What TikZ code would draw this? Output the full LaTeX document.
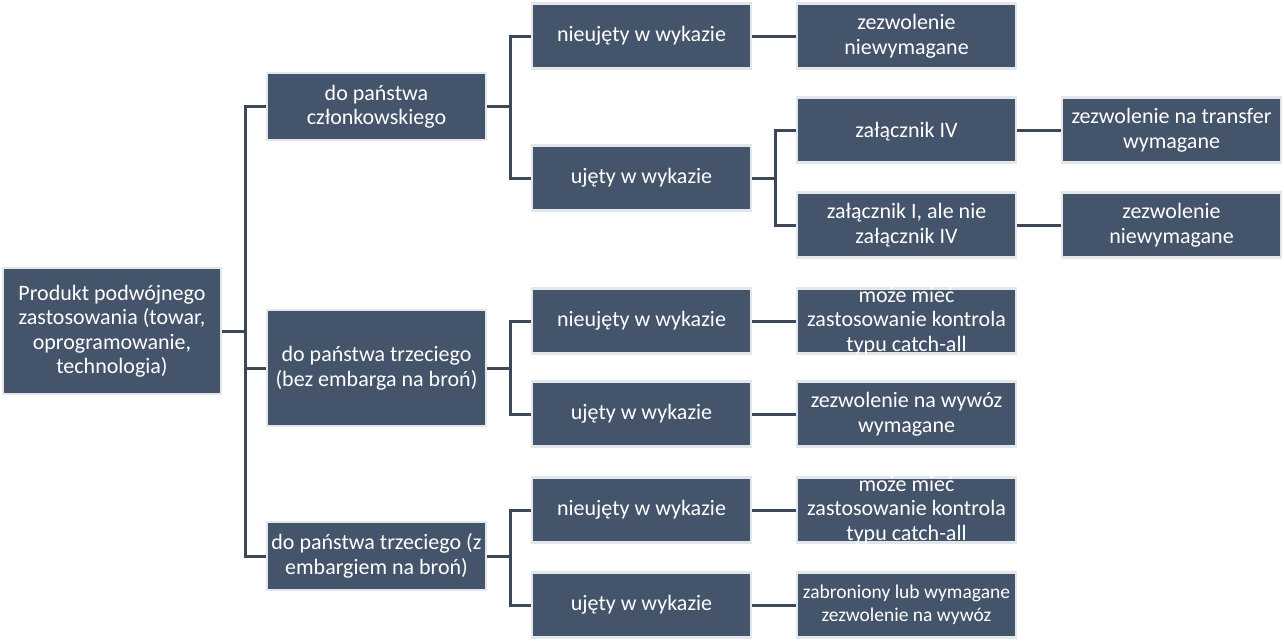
\documentclass[tikz,border=0pt]{standalone}
\usepackage{fontspec}
\setmainfont{Carlito}
\definecolor{boxfill}{HTML}{44546A}
\definecolor{boxborder}{HTML}{E3E6EA}
\definecolor{connline}{HTML}{3C4757}
\begin{document}
\begin{tikzpicture}[x=1pt,y=-1pt,
  box/.style={draw=boxborder, line width=2.5pt, fill=boxfill, text=white,
    align=center, minimum width=219pt, minimum height=65pt, inner sep=0pt,
    font=\fontsize{22pt}{24.5pt}\selectfont},
  txt/.style={text=white, align=center, inner sep=0pt,
    font=\fontsize{22pt}{24.5pt}\selectfont},
  conn/.style={draw=connline, line width=3pt}]
\useasboundingbox (0,0) rectangle (1284,641);
% root
\node[box, minimum width=218pt, minimum height=126pt] (root) at (112,331)
  {Produkt podwójnego\\zastosowania (towar,\\oprogramowanie,\\technologia)};
% level 1
\node[box, minimum height=67pt] (l1a) at (376.5,106.5) {do państwa\\członkowskiego};
\node[box, minimum height=116pt] (l1b) at (376.5,368) {do państwa trzeciego\\(bez embarga na broń)};
\node[box, minimum height=68pt] (l1c) at (376.5,556) {do państwa trzeciego (z\\embargiem na broń)};
% level 2
\node[box] (l2a) at (641.5,36) {nieujęty w wykazie};
\node[box] (l2b) at (641.5,178) {ujęty w wykazie};
\node[box] (l2c) at (641.5,321) {nieujęty w wykazie};
\node[box] (l2d) at (641.5,414) {ujęty w wykazie};
\node[box] (l2e) at (641.5,510) {nieujęty w wykazie};
\node[box] (l2f) at (641.5,605) {ujęty w wykazie};
% level 3
\node[box] (l3a) at (906.5,36) {zezwolenie\\niewymagane};
\node[box] (l3b) at (906.5,130) {};
\node[txt] (t3b) at ([yshift=-2pt]l3b.center) {załącznik IV};
\node[box] (l3c) at (906.5,225) {załącznik I, ale nie\\załącznik IV};
\node[box] (l3d) at (906.5,321) {};
\node[txt] (t3d) at (l3d.center) {może mieć\\zastosowanie kontrola\\typu catch-all};
\node[box] (l3e) at (906.5,414) {zezwolenie na wywóz\\wymagane};
\node[box] (l3f) at (906.5,510) {};
\node[txt] (t3f) at (l3f.center) {może mieć\\zastosowanie kontrola\\typu catch-all};
\node[box, font=\fontsize{19.5pt}{23pt}\selectfont] (l3g) at (906.5,605) {zabroniony lub wymagane\\zezwolenie na wywóz};
% level 4
\node[box] (l4a) at (1171.5,130) {zezwolenie na transfer\\wymagane};
\node[box] (l4b) at (1171.5,225) {zezwolenie\\niewymagane};
% connectors
\draw[conn] (root.east) -- ++(23,0) coordinate (j0);
\draw[conn] (j0) |- (l1a.west);
\draw[conn] (j0) |- (l1b.west);
\draw[conn] (j0) |- (l1c.west);
\draw[conn] (l1a.east) -- ++(23,0) coordinate (j1);
\draw[conn] (j1) |- (l2a.west);
\draw[conn] (j1) |- (l2b.west);
\draw[conn] (l1b.east) -- ++(23,0) coordinate (j2);
\draw[conn] (j2) |- (l2c.west);
\draw[conn] (j2) |- (l2d.west);
\draw[conn] (l1c.east) -- ++(23,0) coordinate (j3);
\draw[conn] (j3) |- (l2e.west);
\draw[conn] (j3) |- (l2f.west);
\draw[conn] (l2a.east) -- (l3a.west);
\draw[conn] (l2b.east) -- ++(23,0) coordinate (j4);
\draw[conn] (j4) |- (l3b.west);
\draw[conn] (j4) |- (l3c.west);
\draw[conn] (l2c.east) -- (l3d.west);
\draw[conn] (l2d.east) -- (l3e.west);
\draw[conn] (l2e.east) -- (l3f.west);
\draw[conn] (l2f.east) -- (l3g.west);
\draw[conn] (l3b.east) -- (l4a.west);
\draw[conn] (l3c.east) -- (l4b.west);
\end{tikzpicture}
\end{document}
